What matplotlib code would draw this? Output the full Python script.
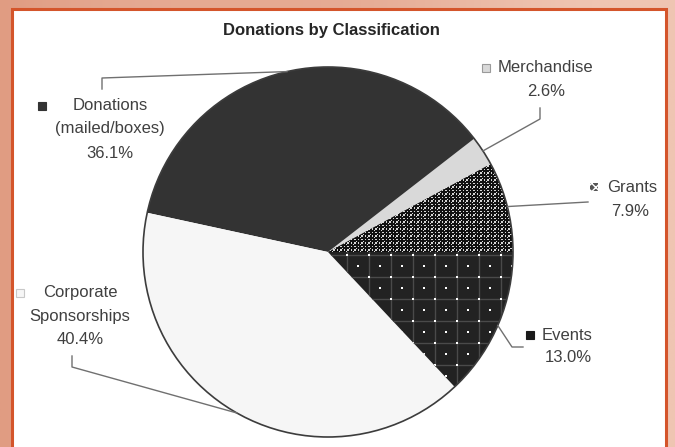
import matplotlib.pyplot as plt
import matplotlib.patches as mpatches
from matplotlib.colors import LinearSegmentedColormap
import numpy as np

plt.rcParams['font.family'] = ['Liberation Sans', 'DejaVu Sans']
plt.rcParams['hatch.linewidth'] = 1.0

# Data (counter-clockwise from 3 o'clock)
categories = ['Grants', 'Merchandise', 'Donations\n(mailed/boxes)',
              'Corporate\nSponsorships', 'Events']
shares = [7.9, 2.6, 36.1, 40.4, 13.0]

colors = ['#d6d6d6', '#d9d9d9', '#333333', '#f6f6f6', '#222222']
patterns = ['cross', None, None, None, 'grid']

W, H = 675, 447
fig = plt.figure(figsize=(W / 100, H / 100), dpi=100)
ax = fig.add_axes([0, 0, 1, 1])

# salmon backdrop
grad = np.linspace(0, 1, 256)[None, :] * np.ones((64, 1))
wave = 0.12 * np.sin(np.linspace(0, 9, 256))[None, :]
bg_cmap = LinearSegmentedColormap.from_list('bg', ['#e09c82', '#efc5b2'])
ax.imshow(np.clip(grad + wave, 0, 1), cmap=bg_cmap, extent=(0, W, 0, H),
          aspect='auto', zorder=0)

# white panel with orange border
panel = mpatches.Rectangle((12, -10), 654, H - 9 + 10, facecolor='white',
                           edgecolor='#d4552b', linewidth=2.2, zorder=1)
ax.add_patch(panel)

cx, cy, r = 328, H - 252, 185
wedges, _ = ax.pie(shares, colors=colors, startangle=0, counterclock=True,
                   center=(cx, cy), radius=r,
                   wedgeprops=dict(linewidth=0))
for w in wedges:
    w.set_zorder(2)


def fill_pattern(w, kind):
    if kind == 'cross':
        step = 7
        gx = np.arange(cx - r, cx + r, step)
        gy = np.arange(cy - r, cy + r, step)
        X, Y = np.meshgrid(gx, gy)
        dx = np.concatenate([X.ravel(), X.ravel() + step / 2])
        dy = np.concatenate([Y.ravel(), Y.ravel() + step / 2])
        sc = ax.scatter(dx, dy, marker='P', s=16, c='#111111',
                        linewidths=0, zorder=2.5)
        sc.set_clip_path(w)
    elif kind == 'grid':
        step = 22
        x0, y0 = 391, H - 255
        gx = np.arange(x0 - 20 * step, x0 + 20 * step, step)
        gy = np.arange(y0 - 20 * step, y0 + 20 * step, step)
        for x in gx:
            ln, = ax.plot([x, x], [gy[0], gy[-1]], color='#4a4a4a', lw=1.0,
                          zorder=2.4)
            ln.set_clip_path(w)
        for y in gy:
            ln, = ax.plot([gx[0], gx[-1]], [y, y], color='#4a4a4a', lw=1.0,
                          zorder=2.4)
            ln.set_clip_path(w)
        X, Y = np.meshgrid(gx, gy)
        dx = np.concatenate([X.ravel(), X.ravel() + step / 2])
        dy = np.concatenate([Y.ravel(), Y.ravel() - step / 2])
        sc = ax.scatter(dx, dy, marker='s', s=4, c='white', linewidths=0,
                        zorder=2.5)
        sc.set_clip_path(w)


for w, p in zip(wedges, patterns):
    if p:
        fill_pattern(w, p)

ax.add_patch(mpatches.Circle((cx, cy), r, fill=False, edgecolor='#3c3c3c',
                             linewidth=1.2, zorder=3))

ax.set_xlim(0, W)
ax.set_ylim(0, H)
ax.set_aspect('auto')
ax.axis('off')

ax.text(331, H - 30, 'Donations by Classification', ha='center', va='center',
        fontsize=12, fontweight='bold', color='#262626', zorder=4)

# label layout: (name x, name y of first line, align, pct x, pct y,
#                marker x, marker y, elbow points)
layout = {
    'Grants': (607, 188, 'left', 630, 212, 594, 187, [(588, 202)]),
    'Merchandise': (498, 68, 'left', 546, 92, 486, 68, [(540, 119), (540, 108)]),
    'Donations\n(mailed/boxes)': (110, 105, 'center', 110, 154, 42, 106,
                                  [(102, 78), (102, 89)]),
    'Corporate\nSponsorships': (80, 292, 'center', 80, 339, 20, 293,
                                [(72, 367), (72, 356)]),
    'Events': (542, 335, 'left', 568, 358, 530, 335, [(512, 347), (523, 347)]),
}
line_gap = 24
marker_faces = ['#555555', '#d9d9d9', '#333333', '#f6f6f6', '#1a1a1a']
marker_edges = ['white', '#9a9a9a', '#333333', '#c8c8c8', '#1a1a1a']
marker_hatch = ['xxxx', None, None, None, None]

tc = '#404040'
for w, name, val, fc, ec, hh in zip(wedges, categories, shares, marker_faces,
                                    marker_edges, marker_hatch):
    nx, ny, al, px, py, mx, my, elbow = layout[name]
    for i, part in enumerate(name.split('\n')):
        ax.text(nx, H - ny - i * line_gap, part, ha=al, va='center',
                fontsize=12, color=tc, zorder=4)
    ax.text(px, H - py, f'{val:.1f}%', ha='center', va='center', fontsize=12,
            color=tc, zorder=4)
    s = 8
    sq = mpatches.Rectangle((mx - s / 2, H - my - s / 2), s, s, facecolor=fc,
                            edgecolor=ec, linewidth=0.8 if not hh else 0,
                            hatch=hh, zorder=4)
    ax.add_patch(sq)
    # leader line from wedge middle to label
    ang = np.deg2rad((w.theta1 + w.theta2) / 2)
    pts = [(cx + r * np.cos(ang), cy + r * np.sin(ang))]
    pts += [(ex, H - ey) for ex, ey in elbow]
    xs, ys = zip(*pts)
    ax.plot(xs, ys, color='#707070', linewidth=1.0, zorder=3)

fig.savefig('out.png', dpi=100)
